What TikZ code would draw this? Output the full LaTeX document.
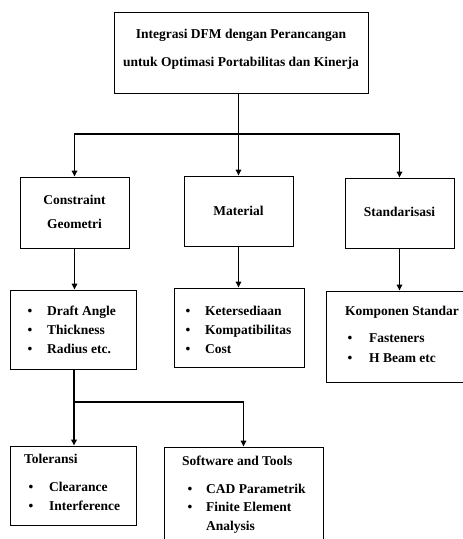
\documentclass[tikz,border=0pt]{standalone}
\usepackage{fontspec}
\setmainfont{Liberation Serif}
\usetikzlibrary{arrows.meta}
\begin{document}
\begin{tikzpicture}[x=1pt,y=-1pt,
  box/.style={draw,line width=0.9pt,inner sep=0pt},
  txt/.style={inner sep=0pt,font=\fontsize{13.5}{16}\selectfont\bfseries,text height=9.5pt,text depth=3pt},
  lt/.style={txt,anchor=west},
  bul/.style={txt},
  conn/.style={line width=1.6pt},
  arr/.style={conn,-{Triangle[length=6pt,width=5.5pt]}}]
\useasboundingbox (0,0) rectangle (463,539);
% boxes
\node[box,minimum width=254pt,minimum height=81pt] (top) at (241,52.5) {};
\node[box,minimum width=109pt,minimum height=71pt] (con) at (74.5,212.5) {};
\node[box,minimum width=109pt,minimum height=70pt] (mat) at (238.5,211) {};
\node[box,minimum width=109pt,minimum height=70pt] (std) at (399.5,213) {};
\node[box,minimum width=126pt,minimum height=79pt] (dra) at (73,329.5) {};
\node[box,minimum width=130pt,minimum height=79pt] (mal) at (239,327.5) {};
\node[box,minimum width=140pt,minimum height=91pt] (kom) at (396,336.5) {};
\node[box,minimum width=126pt,minimum height=79pt] (tol) at (73,485.5) {};
\node[box,minimum width=159pt,minimum height=98pt] (sw) at (243.5,496) {};
% texts
\node[txt] (t1) at (241,35) {Integrasi DFM dengan Perancangan};
\node[txt] (t2) at (241,63) {untuk Optimasi Portabilitas dan Kinerja};
\node[txt] (c1) at (74.5,201) {Constraint};
\node[txt] (c2) at (74.5,225) {Geometri};
\node[txt] (m1) at (238.5,212) {Material};
\node[txt] (s1) at (399.5,213) {Standarisasi};
% draft list
\node[bul] (db1) at (30,312) {•};
\node[bul] (db2) at (30,331) {•};
\node[bul] (db3) at (30,350) {•};
\node[lt] (d1) at (47,312) {Draft Angle};
\node[lt] (d2) at (47,331) {Thickness};
\node[lt] (d3) at (47,350) {Radius etc.};
% material list
\node[bul] (mb1) at (188,312) {•};
\node[bul] (mb2) at (188,331) {•};
\node[bul] (mb3) at (188,350) {•};
\node[lt] (ml1) at (205,312) {Ketersediaan};
\node[lt] (ml2) at (205,331) {Kompatibilitas};
\node[lt] (ml3) at (205,350) {Cost};
% komponen
\node[lt] (k0) at (345,312) {Komponen Standar};
\node[bul] (kb1) at (350,339) {•};
\node[bul] (kb2) at (350,359) {•};
\node[lt] (k1) at (369,339) {Fasteners};
\node[lt] (k2) at (369,359) {H Beam etc};
% toleransi
\node[lt] (to0) at (24,460) {Toleransi};
\node[bul] (tb1) at (31,488) {•};
\node[bul] (tb2) at (31,507) {•};
\node[lt] (to1) at (49,488) {Clearance};
\node[lt] (to2) at (49,507) {Interference};
% software
\node[lt] (sw0) at (182,462) {Software and Tools};
\node[bul] (sb1) at (190,490) {•};
\node[bul] (sb2) at (190,508) {•};
\node[lt] (sw1) at (206,490) {CAD Parametrik};
\node[lt] (sw2) at (206,508) {Finite Element};
\node[lt] (sw3) at (206,527) {Analysis};
% connectors
\coordinate (j1) at (238.5,134);
\coordinate (j2) at (74,402);
\draw[conn] (top.south -| j1) -- (j1);
\draw[arr] (j1) -- (mat.north);
\draw[arr] (j1) -| (con.north);
\draw[arr] (j1) -| (std.north);
\draw[arr] (con.south) -- (con.south |- dra.north);
\draw[arr] (mat.south) -- (mat.south |- mal.north);
\draw[arr] (std.south) -- (std.south |- kom.north);
\draw[conn] (dra.south -| j2) -- (j2);
\draw[arr] (j2) -- (j2 |- tol.north);
\draw[arr] (j2) -| (sw.north);
\end{tikzpicture}
\end{document}
